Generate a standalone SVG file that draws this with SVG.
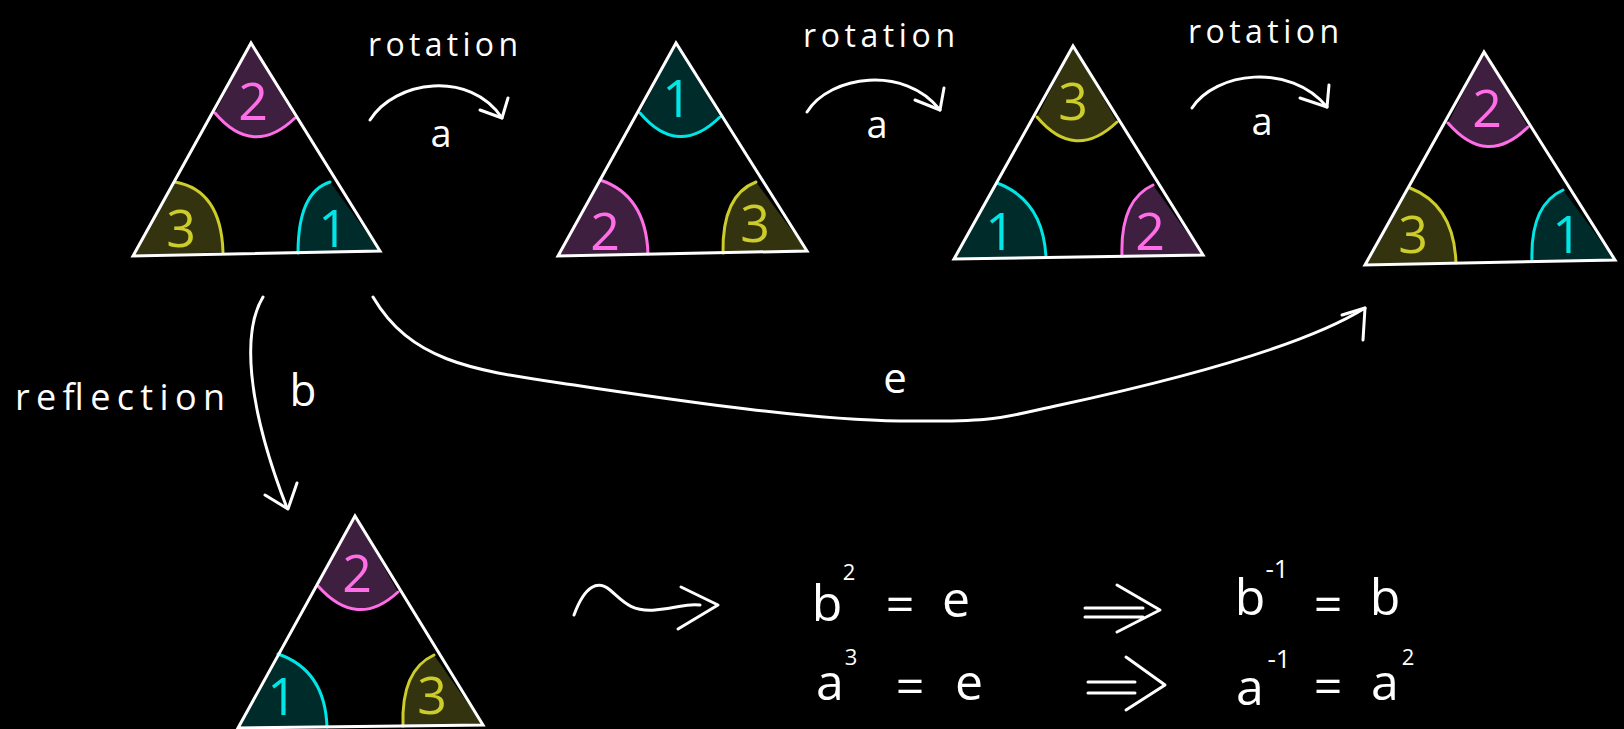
<svg xmlns="http://www.w3.org/2000/svg" width="1624" height="729" viewBox="0 0 1624 729">
<style>
  .tri { fill: none; stroke: #ffffff; stroke-width: 3; stroke-linejoin: miter; }
  .fp { fill: #3e1f40; } .fy { fill: #33330f; } .fc { fill: #002b2b; }
  .sp { fill: none; stroke: #ff6ee6; stroke-width: 3; stroke-linecap: round; }
  .sy { fill: none; stroke: #cccc2a; stroke-width: 3; stroke-linecap: round; }
  .sc { fill: none; stroke: #00e6e6; stroke-width: 3; stroke-linecap: round; }
  .np { fill: #ff6ee6; } .ny { fill: #cccc2a; } .nc { fill: #00e6e6; }
  .num { font-family: "Open Sans", "Noto Sans", sans-serif; font-size: 52px; text-anchor: middle; }
  .lbl { font-family: "Open Sans", "Noto Sans", sans-serif; fill: #ffffff; }
  .mid { text-anchor: middle; }
  .conn { fill: none; stroke: #ffffff; stroke-width: 3; stroke-linecap: round; stroke-linejoin: round; }
</style>
<rect x="0" y="0" width="1624" height="729" fill="#000000"/>

<g id="tri1">
  <path class="fp" d="M251,43 L215,113 Q253,158 295,118 Z"/>
  <path class="fy" d="M133,256 L175,182 Q221,190 223,252 Z"/>
  <path class="fc" d="M380,251 L330,182 Q298,192 298,253 Z"/>
  <path class="sp" d="M215,113 Q253,158 295,118"/>
  <path class="sy" d="M175,182 Q221,190 223,252"/>
  <path class="sc" d="M330,182 Q298,192 298,253"/>
  <path class="tri" d="M251,43 L133,256 L380,251 Z"/>
  <text class="num np" x="253" y="120">2</text>
  <text class="num ny" x="181" y="247">3</text>
  <text class="num nc" x="333" y="247">1</text>
</g>

<g id="tri2">
  <path class="fc" d="M676,43 L640,113 Q678,158 720,117 Z"/>
  <path class="fp" d="M558,256 L600,180 Q646,195 648,254 Z"/>
  <path class="fy" d="M807,251 L756,182 Q722,195 723,253 Z"/>
  <path class="sc" d="M640,113 Q678,158 720,117"/>
  <path class="sp" d="M600,180 Q646,195 648,254"/>
  <path class="sy" d="M756,182 Q722,195 723,253"/>
  <path class="tri" d="M676,43 L558,256 L807,251 Z"/>
  <text class="num nc" x="677" y="117">1</text>
  <text class="num np" x="605" y="250">2</text>
  <text class="num ny" x="755" y="242">3</text>
</g>

<g id="tri3">
  <path class="fy" d="M1073,46 L1037,117 Q1075,162 1117,122 Z"/>
  <path class="fc" d="M954,259 L997,183 Q1043,200 1046,257 Z"/>
  <path class="fp" d="M1203,255 L1153,185 Q1120,200 1122,256 Z"/>
  <path class="sy" d="M1037,117 Q1075,162 1117,122"/>
  <path class="sc" d="M997,183 Q1043,200 1046,257"/>
  <path class="sp" d="M1153,185 Q1120,200 1122,256"/>
  <path class="tri" d="M1073,46 L954,259 L1203,255 Z"/>
  <text class="num ny" x="1073" y="120">3</text>
  <text class="num nc" x="1000" y="250">1</text>
  <text class="num np" x="1150" y="250">2</text>
</g>

<g id="tri4">
  <path class="fp" d="M1484,52 L1448,123 Q1487,168 1528,127 Z"/>
  <path class="fy" d="M1365,265 L1410,188 Q1454,205 1456,263 Z"/>
  <path class="fc" d="M1615,260 L1563,190 Q1530,205 1532,261 Z"/>
  <path class="sp" d="M1448,123 Q1487,168 1528,127"/>
  <path class="sy" d="M1410,188 Q1454,205 1456,263"/>
  <path class="sc" d="M1563,190 Q1530,205 1532,261"/>
  <path class="tri" d="M1484,52 L1365,265 L1615,260 Z"/>
  <text class="num np" x="1487" y="127">2</text>
  <text class="num ny" x="1413" y="253">3</text>
  <text class="num nc" x="1567" y="253">1</text>
</g>

<g id="tri5">
  <path class="fp" d="M355,516 L318,586 Q357,630 398,592 Z"/>
  <path class="fc" d="M238,728 L278,654 Q325,670 327,727 Z"/>
  <path class="fy" d="M483,725 L434,655 Q401,670 403,726 Z"/>
  <path class="sp" d="M318,586 Q357,630 398,592"/>
  <path class="sc" d="M278,654 Q325,670 327,727"/>
  <path class="sy" d="M434,655 Q401,670 403,726"/>
  <path class="tri" d="M355,516 L238,728 L483,725 Z"/>
  <text class="num np" x="357" y="592">2</text>
  <text class="num nc" x="282" y="715" font-size="48">1</text>
  <text class="num ny" x="432" y="714" font-size="48">3</text>
</g>

<g id="connectors">
  <path class="conn" d="M370,120 C395,80 470,70 502,118"/>
  <path class="conn" d="M480,110 L502,118 L508,98"/>
  <path class="conn" d="M807,112 C830,75 905,65 940,110"/>
  <path class="conn" d="M915,100 L940,110 L944,88"/>
  <path class="conn" d="M1192,108 C1215,72 1290,62 1327,107"/>
  <path class="conn" d="M1300,98 L1327,107 L1329,85"/>
  <path class="conn" d="M263,297 C243,330 245,400 287,508"/>
  <path class="conn" d="M265,495 L288,509 L297,483"/>
  <path class="conn" d="M373,297 C410,360 470,370 560,383 S800,420 900,421 S1000,418 1060,405 S1290,355 1365,308"/>
  <path class="conn" d="M1342,315 L1365,308 L1363,340"/>
</g>

<g id="labels">
  <text class="lbl" x="368" y="56" font-size="32" textLength="150" lengthAdjust="spacing">rotation</text>
  <text class="lbl" x="803" y="47" font-size="32" textLength="152" lengthAdjust="spacing">rotation</text>
  <text class="lbl" x="1188" y="43" font-size="32" textLength="151" lengthAdjust="spacing">rotation</text>
  <text class="lbl mid" x="441" y="147" font-size="38">a</text>
  <text class="lbl mid" x="877" y="138" font-size="38">a</text>
  <text class="lbl mid" x="1262" y="135" font-size="38">a</text>
  <text class="lbl" x="15" y="410" font-size="36" textLength="210" lengthAdjust="spacing">reflection</text>
  <text class="lbl mid" x="303" y="406" font-size="44">b</text>
  <text class="lbl mid" x="895" y="393" font-size="42">e</text>
</g>

<g id="result">
  <path class="conn" d="M574,615 C585,585 598,580 610,590 S630,612 655,610 S685,603 700,605"/>
  <path class="conn" d="M681,587 L718,605 L678,629"/>
  <text class="lbl mid" font-size="50"><tspan x="827" y="621">b</tspan><tspan x="849" y="580" font-size="22">2</tspan><tspan x="900" y="622">=</tspan><tspan x="956" y="617">e</tspan></text>
  <path class="conn" d="M1085,608 L1143,608 M1085,617 L1143,617 M1117,585 L1160,610 L1117,632"/>
  <text class="lbl mid" font-size="50"><tspan x="1250" y="615">b</tspan><tspan x="1277" y="578" font-size="26">-1</tspan><tspan x="1328" y="622">=</tspan><tspan x="1385" y="615">b</tspan></text>
  <text class="lbl mid" font-size="50"><tspan x="830" y="700">a</tspan><tspan x="851" y="665" font-size="22">3</tspan><tspan x="910" y="704">=</tspan><tspan x="969" y="700">e</tspan></text>
  <path class="conn" d="M1088,682 L1135,682 M1088,693 L1135,693 M1126,657 L1165,685 L1126,710"/>
  <text class="lbl mid" font-size="50"><tspan x="1250" y="705">a</tspan><tspan x="1279" y="668" font-size="26">-1</tspan><tspan x="1328" y="704">=</tspan><tspan x="1385" y="700">a</tspan><tspan x="1408" y="665" font-size="22">2</tspan></text>
</g>
</svg>
